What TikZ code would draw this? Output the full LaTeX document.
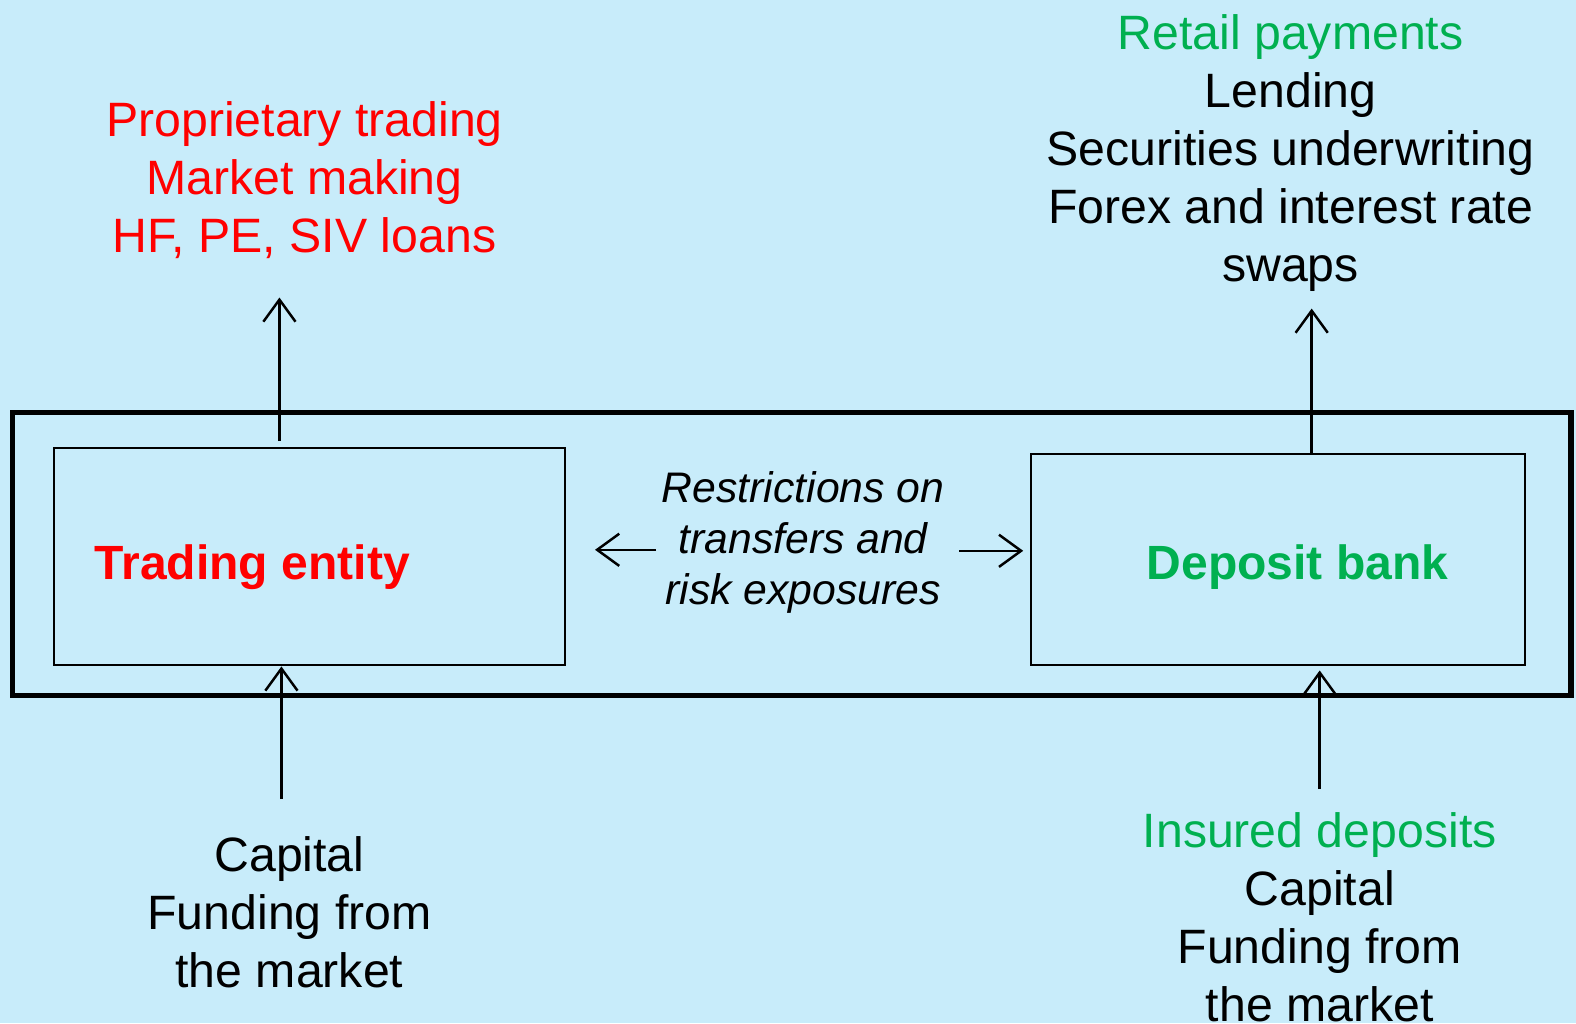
\documentclass[tikz,border=0pt]{standalone}
\usepackage{fontspec}
\setmainfont{Liberation Sans}
\usepackage{xcolor}
\definecolor{skyback}{HTML}{C8ECFA}
\definecolor{tradered}{HTML}{FF0000}
\definecolor{bankgreen}{HTML}{00B050}
\usepackage{tikz}
\usetikzlibrary{arrows.meta, positioning, calc}

\begin{document}
\begin{tikzpicture}[
    listtext/.style={align=center, font=\fontsize{13.65}{16.4}\selectfont, inner sep=0pt},
    unitbox/.style={draw, line width=0.6pt, inner sep=0pt},
    entity/.style={font=\fontsize{13.6}{16}\selectfont\bfseries, inner sep=0pt},
    flow/.style={-{Straight Barb[length=2.2mm, width=3.2mm]}, line width=0.7pt}
  ]
  \useasboundingbox (0, 0) rectangle (15.68, 10.18);
  \fill[skyback] (0, 0) rectangle (15.68, 10.18);

  % --- Ring fence ---
  \node[draw, line width=1.45pt, minimum width=15.51cm, minimum height=2.82cm, inner sep=0pt]
    (fence) at (7.875, 4.67) {};

  % --- Trading entity ---
  \node[unitbox, minimum width=5.08cm, minimum height=2.16cm] (trade) at (3.08, 4.64) {};
  \node[entity, text=tradered] (tradelbl) at (2.51, 4.54) {Trading entity};
  \node[listtext, text=tradered] (tradeact) at (3.03, 8.39)
    {Proprietary trading\\Market making\\HF, PE, SIV loans};
  \node[listtext] (tradefund) at (2.88, 1.10)
    {Capital\\Funding from\\the market};
  \coordinate (tradetop) at (2.78, 7.22);
  \coordinate (tradebot) at (2.80, 2.23);

  % --- Deposit bank ---
  \node[unitbox, minimum width=4.91cm, minimum height=2.10cm] (bank) at (12.715, 4.61) {};
  \node[entity, text=bankgreen] (banklbl) at (12.91, 4.54) {Deposit bank};
  \node[listtext] (bankact) at (12.84, 8.66)
    {\textcolor{bankgreen}{Retail payments}\\Lending\\Securities underwriting\\Forex and interest rate\\swaps};
  \node[listtext] (bankfund) at (13.13, 1.055)
    {\textcolor{bankgreen}{Insured deposits}\\Capital\\Funding from\\the market};
  \coordinate (banktop) at (13.05, 7.11);
  \coordinate (bankbot) at (13.13, 2.33);

  % --- Restrictions ---
  \node[align=center, font=\fontsize{12.1}{14.4}\selectfont\itshape, inner sep=0pt]
    (limits) at (7.99, 4.78) {Restrictions on\\transfers and\\risk exposures};
  \coordinate (limitl) at (5.92, 4.71);
  \coordinate (limitr) at (10.18, 4.70);

  % --- Arrows ---
  \draw[flow] ([yshift=0.06cm]trade.north -| tradetop) -- (tradetop);
  \draw[flow] (tradebot) -- (trade.south -| tradebot);
  \draw[flow] (bank.north -| banktop) -- (banktop);
  \draw[flow] (bankbot) -- ([yshift=-0.04cm]bank.south -| bankbot);
  \draw[flow] ([xshift=-0.05cm]limits.west |- limitl) -- (limitl);
  \draw[flow] ([xshift=0.14cm]limits.east |- limitr) -- (limitr);
\end{tikzpicture}
\end{document}
